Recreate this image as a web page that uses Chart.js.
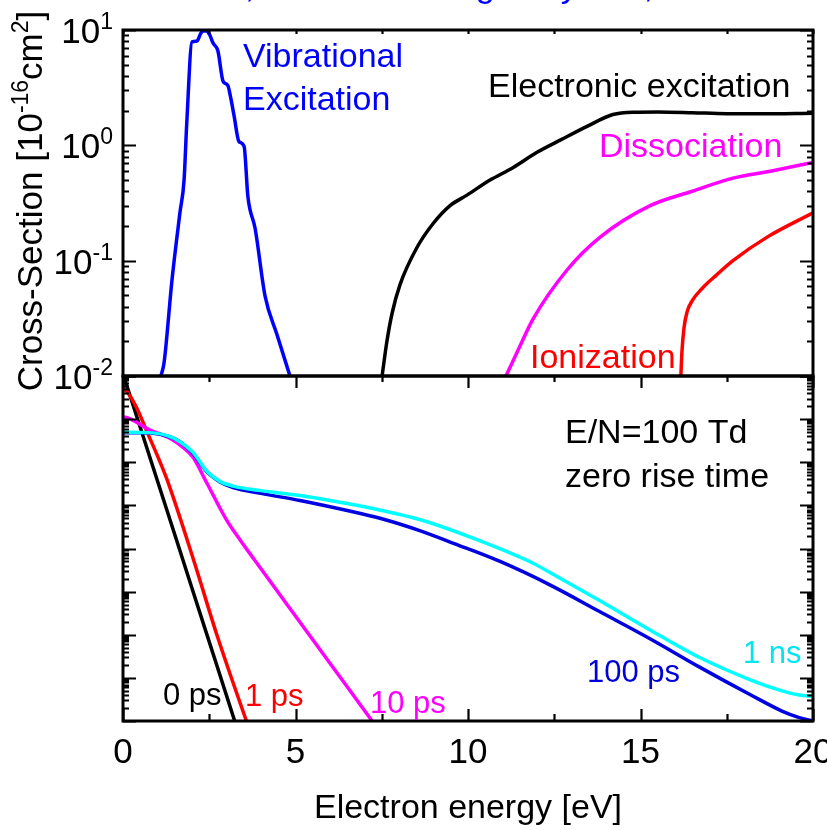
<!DOCTYPE html>
<html>
<head>
<meta charset="utf-8">
<script src="https://cdn.jsdelivr.net/npm/chart.js@4.4.1/dist/chart.umd.min.js"></script>
<style>
  body { margin: 0; background: #fff; }
  #wrap { position: relative; width: 827px; height: 830px; overflow: hidden; }
  #wrap canvas { position: absolute; left: 0; top: 0; }
</style>
</head>
<body>
<div id="wrap">
  <canvas id="csChart" width="827" height="830"></canvas>
  <canvas id="eedfChart" width="827" height="830"></canvas>
</div>
<script>
// ---- top panel: cross sections [1e-16 cm^2] vs electron energy [eV]
const vibE = [1.10, 1.19, 1.42, 1.65, 1.77, 1.85, 2.00, 2.14, 2.25, 2.32, 2.43, 2.52, 2.61, 2.75, 2.90, 3.04, 3.12, 3.22, 3.36, 3.51, 3.62, 3.83, 4.12, 4.46, 4.84];
const vibS = [0.010, 0.013, 0.068, 0.26, 0.50, 1.6, 7.9, 8.0, 9.3, 9.8, 9.8, 9.0, 7.7, 6.6, 3.6, 3.3, 2.6, 1.8, 1.08, 0.98, 0.36, 0.19, 0.049, 0.023, 0.010];

const elecE = [7.51, 7.65, 7.80, 8.03, 8.52, 8.99, 9.48, 9.97, 10.64, 11.3, 12.0, 12.7, 13.45, 14.2, 14.8, 15.5, 16.5, 17.5, 18.5, 20.0];
const elecS = [0.010, 0.020, 0.035, 0.062, 0.13, 0.21, 0.30, 0.37, 0.50, 0.64, 0.87, 1.12, 1.46, 1.85, 1.94, 1.95, 1.92, 1.88, 1.88, 1.90];

const dissE = [11.1, 11.5, 11.88, 12.87, 13.83, 15.28, 16.5, 17.68, 18.8, 20.0];
const dissS = [0.010, 0.018, 0.031, 0.083, 0.16, 0.30, 0.40, 0.52, 0.60, 0.71];

const ionE = [16.17, 16.20, 16.26, 16.35, 16.50, 16.80, 17.20, 17.68, 18.67, 20.0];
const ionS = [0.010, 0.016, 0.026, 0.036, 0.045, 0.058, 0.075, 0.10, 0.16, 0.26];

// ---- bottom panel: EEDF (arb. units, log) at several times
const t0E = [0, 0.93, 1.57, 2.43, 3.25, 3.40];
const t0F = [1.12, 5.5e-3, 1.41e-4, 1.02e-6, 9.3e-9, 3.9e-9];

const t1E = [0, 0.12, 0.40, 0.70, 1.00, 1.28, 2.06, 2.72, 3.59, 3.75];
const t1F = [0.52, 0.43, 0.18, 0.050, 0.014, 3.9e-3, 5.0e-5, 1.0e-6, 9.3e-9, 4.0e-9];

const t10E = [0, 0.14, 0.78, 1.36, 1.74, 2.03, 2.43, 3.00, 3.39, 3.83, 5.13, 6.10, 7.25, 7.40];
const t10F = [0.112, 0.107, 0.056, 0.036, 0.022, 0.013, 3.3e-3, 4.6e-4, 1.6e-4, 5.2e-5, 1.95e-6, 1.7e-7, 9.3e-9, 6.3e-9];

const t100E = [0, 0.5, 0.87, 1.3, 1.65, 2.03, 2.43, 2.81, 3.19, 4.0, 5.13, 6.5, 7.5, 8.6, 9.6, 10.93, 12.4, 13.8, 15.3, 16.7, 18.2, 19.1, 19.6, 20.0];
const t100F = [0.048, 0.048, 0.047, 0.040, 0.030, 0.016, 6.0e-3, 3.5e-3, 2.6e-3, 1.9e-3, 1.3e-3, 7.6e-4, 4.9e-4, 2.6e-4, 1.3e-4, 5.0e-5, 1.4e-5, 3.5e-6, 7.9e-7, 1.8e-7, 4.0e-8, 1.7e-8, 1.2e-8, 1.0e-8];

const t1nsE = [0, 0.5, 0.87, 1.3, 1.65, 2.03, 2.43, 2.81, 3.19, 4.0, 5.13, 6.5, 7.5, 8.6, 10.26, 11.9, 12.4, 13.8, 15.3, 16.7, 18.2, 19.1, 19.6, 20.0];
const t1nsF = [0.050, 0.049, 0.048, 0.041, 0.030, 0.017, 6.2e-3, 3.6e-3, 2.8e-3, 2.2e-3, 1.7e-3, 1.1e-3, 7.6e-4, 4.7e-4, 1.6e-4, 4.5e-5, 2.7e-5, 6.3e-6, 1.26e-6, 3.0e-7, 8.9e-8, 5.0e-8, 4.0e-8, 3.7e-8];

// axis ticks
const xMajor = [0, 5, 10, 15, 20];
const xMinor = [2.5, 7.5, 12.5, 17.5];
const xLabels = ["0", "5", "10", "15", "20"];
const csDecades = [-2, -1, 0, 1];
const csLabels = ["-2", "-1", "0", "1"];

const FONT = '"Liberation Sans", Arial, sans-serif';

const pts = (xs, ys) => xs.map((x, i) => ({ x: x, y: ys[i] }));
const ds = (xs, ys, color) => ({ data: pts(xs, ys), borderColor: color, borderWidth: 3.5, pointRadius: 0, fill: false, cubicInterpolationMode: 'monotone' });

function txt(ctx, s, x, y, color, size, align) {
  ctx.font = size + 'px ' + FONT;
  ctx.fillStyle = color;
  ctx.textAlign = align || 'left';
  ctx.textBaseline = 'alphabetic';
  ctx.fillText(s, x, y);
}

// frame + inward ticks, positions come from the chart's own scales
function drawFrame(chart, sides) {
  const ctx = chart.ctx;
  const { left, right, top, bottom } = chart.chartArea;
  const xs = chart.scales.x, ys = chart.scales.y;
  ctx.save();
  ctx.strokeStyle = '#000';
  ctx.lineWidth = 2.2;
  ctx.beginPath();
  const lo = Math.round(Math.log10(ys.min)), hi = Math.round(Math.log10(ys.max));
  for (let e = lo; e <= hi; e++) {
    for (let k = 1; k <= 9; k++) {
      const v = k * Math.pow(10, e);
      if (v > ys.max * 1.0001) break;
      const py = Math.round(ys.getPixelForValue(v)) + 0.5;
      const len = k === 1 ? 13 : 6;
      ctx.moveTo(left, py); ctx.lineTo(left + len, py);
      ctx.moveTo(right, py); ctx.lineTo(right - len, py);
    }
  }
  xMajor.concat(xMinor).forEach(v => {
    const px = Math.round(xs.getPixelForValue(v)) + 0.5;
    const major = xMajor.includes(v);
    if (sides.topTicks) { ctx.moveTo(px, top); ctx.lineTo(px, top + sides.topTicks(major)); }
    if (sides.bottomTicks) { ctx.moveTo(px, bottom); ctx.lineTo(px, bottom - sides.bottomTicks(major)); }
  });
  ctx.stroke();
  ctx.lineWidth = 3;
  ctx.strokeRect(left, top, right - left, bottom - top);
  ctx.restore();
}

const framePlugin = {
  id: 'frame',
  afterDraw(chart, args, opts) {
    const ctx = chart.ctx;
    const ys = chart.scales.y, xs = chart.scales.x;
    if (opts.panel === 'top') {
      drawFrame(chart, { topTicks: () => 4 });
      ctx.save();
      // title line, mostly cut off by the top edge
      txt(ctx, "e + N2, data from Morgan by Itoh,", 144, -3, '#0000ff', 34);
      // y tick labels 10^n
      csDecades.forEach((e, i) => {
        const py = ys.getPixelForValue(Math.pow(10, e));
        ctx.font = '23px ' + FONT;
        const w2 = ctx.measureText(csLabels[i]).width;
        ctx.font = '35px ' + FONT;
        const w1 = ctx.measureText('10').width;
        txt(ctx, '10', 113 - w2 - w1, py + 13, '#000', 35);
        txt(ctx, csLabels[i], 113 - w2, py - 1, '#000', 23);
      });
      // y axis title
      ctx.translate(42, 201);
      ctx.rotate(-Math.PI / 2);
      const parts = [["Cross-Section [10", 35, 0], ["-16", 23, -14], ["cm", 35, 0], ["2", 23, -14], ["]", 35, 0]];
      let total = 0;
      parts.forEach(p => { ctx.font = p[1] + 'px ' + FONT; p.push(ctx.measureText(p[0]).width); total += p[3]; });
      let cx = -total / 2;
      parts.forEach(p => { txt(ctx, p[0], cx, p[2], '#000', p[1]); cx += p[3]; });
      ctx.restore();
      // curve labels
      txt(ctx, "Vibrational", 243, 67, '#0000ff', 34);
      txt(ctx, "Excitation", 243, 110, '#0000ff', 34);
      txt(ctx, "Electronic excitation", 488, 97, '#000', 34);
      txt(ctx, "Dissociation", 599, 157, '#ff00ff', 34);
      txt(ctx, "Ionization", 530, 368, '#ff0000', 34);
    } else {
      drawFrame(chart, { topTicks: m => (m ? 12 : 6), bottomTicks: m => (m ? 12 : 7) });
      xMajor.forEach((v, i) => txt(ctx, xLabels[i], xs.getPixelForValue(v), 763, '#000', 35, 'center'));
      txt(ctx, "Electron energy [eV]", 468, 818, '#000', 34, 'center');
      txt(ctx, "E/N=100 Td", 565, 443, '#000', 34);
      txt(ctx, "zero rise time", 565, 487, '#000', 34);
      txt(ctx, "0 ps", 163, 705, '#000', 31);
      txt(ctx, "1 ps", 245, 706, '#ff0000', 31);
      txt(ctx, "10 ps", 370, 713, '#ff00ff', 31);
      txt(ctx, "100 ps", 587, 682, '#0000d8', 31);
      txt(ctx, "1 ns", 743, 663, '#00e5ee', 31);
    }
  }
};

function opts(panel, yMin, yMax, pad) {
  return {
    responsive: false,
    animation: false,
    events: [],
    layout: { padding: pad },
    plugins: { legend: { display: false }, tooltip: { enabled: false }, frame: { panel: panel } },
    scales: {
      x: { type: 'linear', min: 0, max: 20, display: false },
      y: { type: 'logarithmic', min: yMin, max: yMax, display: false }
    }
  };
}

// top: cross sections
new Chart(document.getElementById("csChart"), {
  type: 'line',
  data: {
    datasets: [
      ds(vibE, vibS, '#0000ff'),
      ds(elecE, elecS, '#000000'),
      ds(dissE, dissS, '#ff00ff'),
      ds(ionE, ionS, '#ff0000')
    ]
  },
  options: opts('top', 0.01, 10, { left: 123, right: 14, top: 30, bottom: 454 }),
  plugins: [framePlugin]
});

// bottom: EEDF (first dataset ends up drawn on top)
new Chart(document.getElementById("eedfChart"), {
  type: 'line',
  data: {
    datasets: [
      ds(t1nsE, t1nsF, '#00ffff'),
      ds(t100E, t100F, '#0000e0'),
      ds(t10E, t10F, '#ff00ff'),
      ds(t1E, t1F, '#ff0000'),
      ds(t0E, t0F, '#000000')
    ]
  },
  options: opts('bottom', 1e-8, 1, { left: 123, right: 14, top: 376, bottom: 109 }),
  plugins: [framePlugin]
});
</script>
</body>
</html>
